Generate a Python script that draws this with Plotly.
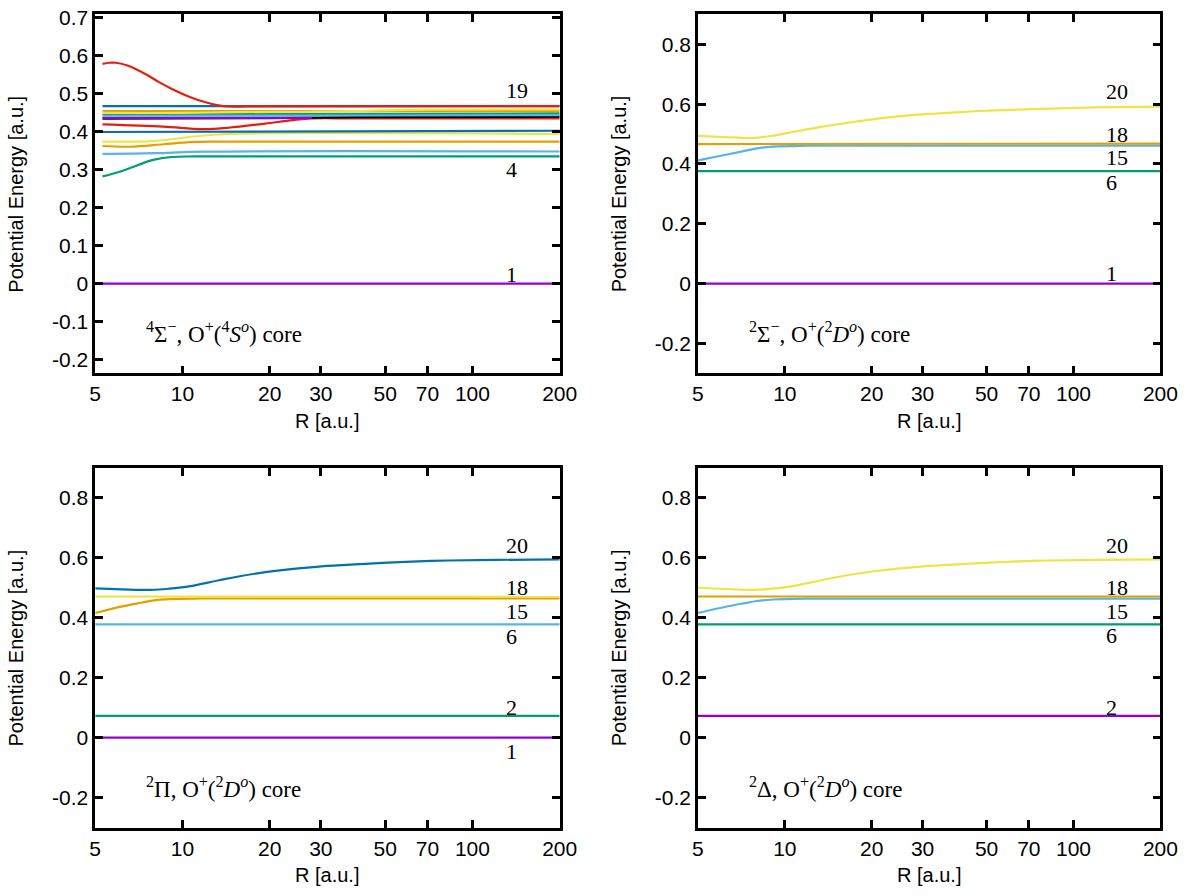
import plotly.graph_objects as go
import math

# gnuplot default line colours
purple, green, lblue, orange = "#9400d3", "#009e73", "#56b4e9", "#e69f00"
yellow, blue, red, black = "#f0e442", "#0072b2", "#e51e10", "#000000"

x_ticks = [5, 10, 20, 30, 50, 70, 100, 200]

# ---- panel 1: 4Sigma-, O+(4S^o) core (R starts a bit above 5) ----
r1_flat = [5.3, 200]
r1_s2 = [5.3, 6.0, 6.6, 7.2, 8.0, 9.2, 11, 200]
e1_s2 = [0.282, 0.293, 0.304, 0.315, 0.326, 0.333, 0.3345, 0.3345]
r1_s3 = [5.3, 8, 12, 200]
e1_s3 = [0.341, 0.343, 0.347, 0.3475]
r1_s4 = [5.3, 6.6, 8.6, 10.6, 13, 200]
e1_s4 = [0.362, 0.360, 0.3665, 0.372, 0.3735, 0.3735]
r1_s5 = [5.3, 7.5, 8.6, 11, 14.4, 200]
e1_s5 = [0.3735, 0.3738, 0.377, 0.387, 0.3935, 0.3935]
e1_s6 = [0.3987, 0.402]
r1_s7 = [5.3, 8.6, 11.7, 14.4, 19.3, 24, 28, 40, 200]
e1_s7 = [0.419, 0.413, 0.4065, 0.410, 0.421, 0.430, 0.4345, 0.4345, 0.4345]
r1_s8 = [5.3, 20, 40, 200]
e1_s8 = [0.434, 0.435, 0.438, 0.439]
r1_s9 = [5.3, 28]
e1_s9 = [0.436, 0.436]
e1_s10 = [0.445, 0.4475]
e1_s11 = [0.4415, 0.443]
e1_s12 = [0.4535, 0.4545]
r1_s13 = [5.3, 10, 15, 25, 40, 60, 200]
e1_s13 = [0.449, 0.449, 0.451, 0.452, 0.454, 0.457, 0.458]
e1_s14 = [0.4666, 0.4666]
r1_s15 = [5.3, 5.6, 5.9, 6.5, 7.5, 8.3, 9.2, 10.6, 12, 13.3, 14.4, 17, 200]
e1_s15 = [0.578, 0.581, 0.581, 0.573, 0.550, 0.530, 0.512, 0.491, 0.477, 0.469, 0.466, 0.466, 0.467]

# ---- panels 2-4 share the R grid ----
r_flat = [5, 200]
r_rise = [5, 6.2, 7.2, 8.0, 9.1, 11.8, 200]
r_top = [5, 6.2, 7.8, 9.0, 10.4, 13.5, 17.5, 22, 29, 38, 49, 65, 83, 120, 200]

# panel 2: 2Sigma-, O+(2D^o) core
e2_s1 = [0, 0]
e2_s6 = [0.376, 0.376]
e2_s15 = [0.412, 0.430, 0.443, 0.452, 0.458, 0.461, 0.461]
e2_s18 = [0.4666, 0.468]
e2_s20 = [0.494, 0.490, 0.487, 0.494, 0.505, 0.525, 0.541, 0.554, 0.565, 0.572, 0.578,
          0.582, 0.585, 0.589, 0.592]

# panel 3: 2Pi, O+(2D^o) core
e3_s1 = [0, 0]
e3_s2 = [0.0726, 0.0726]
e3_s6 = [0.378, 0.378]
e3_s15 = [0.416, 0.438, 0.450, 0.458, 0.462, 0.465, 0.465]
e3_s18 = [0.471, 0.470]
e3_s20 = [0.498, 0.495, 0.493, 0.497, 0.504, 0.526, 0.546, 0.559, 0.570, 0.577, 0.583,
          0.588, 0.591, 0.593, 0.595]

# panel 4: 2Delta, O+(2D^o) core
e4_s2 = [0.073, 0.073]
e4_s6 = [0.378, 0.378]
e4_s15 = [0.416, 0.436, 0.448, 0.456, 0.461, 0.464, 0.464]
e4_s18 = [0.471, 0.471]
e4_s20 = [0.501, 0.496, 0.493, 0.497, 0.504, 0.526, 0.546, 0.559, 0.570, 0.577, 0.583,
          0.588, 0.591, 0.593, 0.595]

# state labels (text, E position) per panel
labels1 = [("19", 0.508), ("4", 0.299), ("1", 0.025)]
labels2 = [("20", 0.642), ("18", 0.497), ("15", 0.421), ("6", 0.338), ("1", 0.033)]
labels3 = [("20", 0.641), ("18", 0.502), ("15", 0.421), ("6", 0.339), ("2", 0.102), ("1", -0.046)]
labels4 = [("20", 0.641), ("18", 0.502), ("15", 0.422), ("6", 0.340), ("2", 0.102)]
label_r = 128

titles = [
    "<sup>4</sup>Σ<sup>−</sup>, O<sup>+</sup>(<sup>4</sup><i>S</i><sup><i>o</i></sup>) core",
    "<sup>2</sup>Σ<sup>−</sup>, O<sup>+</sup>(<sup>2</sup><i>D</i><sup><i>o</i></sup>) core",
    "<sup>2</sup>Π, O<sup>+</sup>(<sup>2</sup><i>D</i><sup><i>o</i></sup>) core",
    "<sup>2</sup>Δ, O<sup>+</sup>(<sup>2</sup><i>D</i><sup><i>o</i></sup>) core",
]

panels = [
    [(r1_flat, [0, 0], purple), (r1_s2, e1_s2, green), (r1_s3, e1_s3, lblue),
     (r1_s4, e1_s4, orange), (r1_s5, e1_s5, yellow), (r1_flat, e1_s6, blue),
     (r1_s7, e1_s7, red), (r1_s8, e1_s8, black), (r1_s9, e1_s9, purple),
     (r1_flat, e1_s10, green), (r1_flat, e1_s11, lblue), (r1_flat, e1_s12, orange),
     (r1_s13, e1_s13, yellow), (r1_flat, e1_s14, blue), (r1_s15, e1_s15, red)],
    [(r_flat, e2_s1, purple), (r_flat, e2_s6, green), (r_rise, e2_s15, lblue),
     (r_flat, e2_s18, orange), (r_top, e2_s20, yellow)],
    [(r_flat, e3_s1, purple), (r_flat, e3_s2, green), (r_flat, e3_s6, lblue),
     (r_rise, e3_s15, orange), (r_flat, e3_s18, yellow), (r_top, e3_s20, blue)],
    [(r_flat, e4_s2, purple), (r_flat, e4_s6, green), (r_rise, e4_s15, lblue),
     (r_flat, e4_s18, orange), (r_top, e4_s20, yellow)],
]
all_labels = [labels1, labels2, labels3, labels4]

y_ticks1 = [-0.2, -0.1, 0, 0.1, 0.2, 0.3, 0.4, 0.5, 0.6, 0.7]
y_text1 = ["-0.2", "-0.1", "0", "0.1", "0.2", "0.3", "0.4", "0.5", "0.6", "0.7"]
y_ticks2 = [-0.2, 0, 0.2, 0.4, 0.6, 0.8]
y_text2 = ["-0.2", "0", "0.2", "0.4", "0.6", "0.8"]

W, H = 1200, 895
x_dom = [[91 / W, 565 / W], [706 / W, 1178 / W], [91 / W, 565 / W], [706 / W, 1178 / W]]
y_dom = [[1 - 368 / H, 1 - 5.5 / H], [1 - 368 / H, 1 - 5.5 / H],
         [1 - 827 / H, 1 - 463.5 / H], [1 - 827 / H, 1 - 463.5 / H]]
y_rng = [[-0.236, 0.708], [-0.3, 0.9], [-0.3, 0.9], [-0.3, 0.9]]

fig = go.Figure()
sans = "Liberation Sans, Arial, sans-serif"
serif = "Liberation Serif, Times New Roman, serif"
annotations = []

for i, traces in enumerate(panels):
    n = "" if i == 0 else str(i + 1)
    for r, e, col in traces:
        fig.add_trace(go.Scatter(x=r, y=e, mode="lines", xaxis="x" + n, yaxis="y" + n,
                                 line=dict(color=col, width=2.2, shape="spline", smoothing=1.0),
                                 showlegend=False, hoverinfo="skip"))

    yv, yt = (y_ticks1, y_text1) if i == 0 else (y_ticks2, y_text2)

    axis_common = dict(showline=True, linecolor="black", linewidth=2.5, mirror="allticks",
                       ticks="inside", ticklen=8, tickwidth=2.5, tickcolor="black",
                       showgrid=False, zeroline=False, ticklabeloverflow="allow",
                       tickfont=dict(family=sans, size=21, color="black"))
    fig.update_layout(**{
        "xaxis" + n: dict(axis_common, type="log", domain=x_dom[i], anchor="y" + n,
                          range=[math.log10(5), math.log10(200)],
                          tickvals=x_ticks, ticktext=[str(t) for t in x_ticks]),
        "yaxis" + n: dict(axis_common, domain=y_dom[i], anchor="x" + n, range=y_rng[i],
                          tickvals=yv, ticktext=yt),
    })

    for txt, ey in all_labels[i]:
        annotations.append(dict(x=math.log10(label_r), y=ey, xref="x" + n, yref="y" + n,
                                text=txt, showarrow=False, xanchor="left", yanchor="middle",
                                font=dict(family=serif, size=22, color="black")))
    annotations.append(dict(x=0.106, y=0.113, xref="x" + n + " domain", yref="y" + n + " domain",
                            text=titles[i], showarrow=False, xanchor="left", yanchor="middle",
                            font=dict(family=serif, size=23, color="black")))

    # axis titles
    xc = (x_dom[i][0] + x_dom[i][1]) / 2
    annotations.append(dict(x=xc, y=y_dom[i][0] - 48 / H, xref="paper", yref="paper",
                            text="R [a.u.]", showarrow=False, xanchor="center", yanchor="middle",
                            font=dict(family=sans, size=20, color="black")))
    yc = (y_dom[i][0] + y_dom[i][1]) / 2
    annotations.append(dict(x=x_dom[i][0] - 81 / W, y=yc, xref="paper", yref="paper",
                            text="Potential Energy [a.u.]", textangle=-90, showarrow=False,
                            xanchor="center", yanchor="middle",
                            font=dict(family=sans, size=20, color="black")))

fig.update_layout(width=W, height=H, margin=dict(l=0, r=0, t=0, b=0),
                  plot_bgcolor="white", paper_bgcolor="white", hovermode=False,
                  annotations=annotations, showlegend=False)

# drop the browser's default body margin so the figure sits at the page origin
fig.write_html("out.html", config={"displayModeBar": False},
               post_script="document.body.style.margin='0';document.body.style.overflow='hidden';")
